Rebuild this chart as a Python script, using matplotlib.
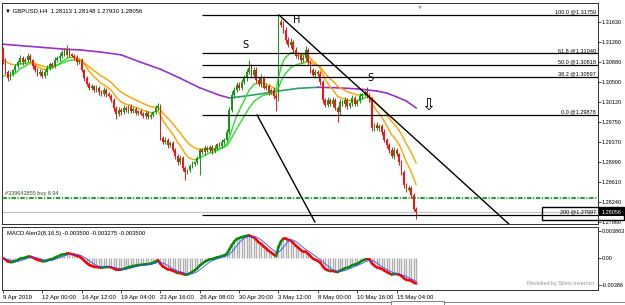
import numpy as np
import matplotlib
matplotlib.use('Agg')
import matplotlib.pyplot as plt
from matplotlib.collections import LineCollection
from matplotlib.patches import Rectangle
from matplotlib.lines import Line2D

plt.rcParams['font.family'] = ['Liberation Sans', 'DejaVu Sans']

# ---------------- data ----------------
first_open = 1.3110
closes = [
    1.3091, 1.3069, 1.3057, 1.3065, 1.3072, 1.3080, 1.3087, 1.3095, 1.3087, 1.3091, 1.3099, 1.3091, 1.3080, 1.3072, 1.3065, 1.3069,
    1.3061, 1.3069, 1.3076, 1.3084, 1.3080, 1.3091, 1.3095, 1.3099, 1.3106, 1.3101, 1.3110, 1.3102, 1.3099, 1.3095, 1.3087, 1.3091,
    1.3072, 1.3057, 1.3046, 1.3039, 1.3042, 1.3035, 1.3039, 1.3031, 1.3027, 1.3035, 1.3027, 1.3024, 1.3016, 1.3001, 1.2990, 1.2997,
    1.2993, 1.3001, 1.2997, 1.3003, 1.2995, 1.2999, 1.2992, 1.2995, 1.2990, 1.2986, 1.2992, 1.2984, 1.2988, 1.2993, 1.3001, 1.3005,
    1.2945, 1.2937, 1.2941, 1.2931, 1.2935, 1.2922, 1.2911, 1.2899, 1.2907, 1.2888, 1.2881, 1.2884, 1.2892, 1.2896, 1.2899, 1.2907,
    1.2922, 1.2918, 1.2926, 1.2922, 1.2928, 1.2920, 1.2926, 1.2933, 1.2930, 1.2937, 1.2941, 1.2956, 1.2997, 1.3025, 1.3035, 1.3044,
    1.3039, 1.3050, 1.3057, 1.3069, 1.3076, 1.3063, 1.3072, 1.3054, 1.3046, 1.3057, 1.3039, 1.3042, 1.3031, 1.3035, 1.3024, 1.3020,
    1.3163, 1.3157, 1.3148, 1.3129, 1.3119, 1.3125, 1.3110, 1.3099, 1.3101, 1.3091, 1.3095, 1.3110, 1.3087, 1.3072, 1.3063, 1.3069,
    1.3065, 1.3050, 1.3016, 1.3007, 1.3016, 1.3009, 1.3016, 1.3001, 1.2993, 1.3012, 1.3009, 1.3016, 1.3005, 1.3010, 1.3020, 1.3009,
    1.3014, 1.3024, 1.3027, 1.3031, 1.3025, 1.3016, 1.2963, 1.2969, 1.2963, 1.2967, 1.2956, 1.2941, 1.2931, 1.2922, 1.2911, 1.2922,
    1.2914, 1.2899, 1.2881, 1.2856, 1.2847, 1.2851, 1.2837, 1.2811, 1.28056]
# wick lengths in pips above max(open, close) / below min(open, close)
wick_up = [
    6, 4, 3, 5, 3, 4, 5, 6, 3, 4, 6, 3, 2, 3, 4, 5,
    3, 4, 5, 3, 4, 5, 4, 6, 5, 7, 9, 4, 3, 4, 5, 3,
    4, 3, 5, 3, 4, 3, 5, 4, 3, 5, 3, 4, 3, 4, 3, 5,
    4, 5, 3, 4, 5, 3, 4, 3, 4, 3, 5, 3, 4, 3, 5, 5,
    4, 3, 5, 3, 4, 3, 4, 3, 5, 3, 4, 3, 4, 5, 3, 4,
    4, 3, 5, 4, 3, 4, 5, 3, 4, 5, 3, 6, 5, 8, 6, 5,
    6, 5, 7, 6, 15, 8, 6, 7, 5, 8, 4, 6, 5, 4, 5, 4,
    13, 6, 7, 5, 6, 8, 4, 5, 6, 4, 5, 7, 4, 5, 4, 6,
    4, 5, 3, 4, 5, 4, 5, 3, 4, 5, 4, 5, 4, 3, 5, 4,
    4, 5, 3, 4, 9, 5, 6, 4, 5, 3, 4, 5, 3, 4, 5, 6,
    4, 3, 5, 3, 4, 6, 3, 4, 3]
wick_dn = [
    8, 4, 5, 3, 4, 3, 4, 3, 5, 4, 3, 4, 5, 3, 4, 3,
    4, 3, 5, 4, 3, 4, 3, 5, 4, 3, 4, 5, 3, 4, 5, 3,
    4, 5, 3, 4, 5, 3, 4, 5, 3, 4, 5, 3, 4, 5, 10, 4,
    5, 4, 3, 5, 4, 3, 5, 4, 3, 4, 5, 3, 4, 3, 4, 3,
    5, 4, 3, 5, 4, 3, 6, 5, 4, 6, 15, 5, 4, 3, 5, 4,
    32, 4, 5, 3, 4, 5, 3, 4, 3, 4, 5, 3, 4, 3, 5, 4,
    5, 4, 3, 6, 4, 5, 3, 6, 4, 5, 3, 4, 5, 3, 6, 25,
    5, 4, 6, 5, 4, 6, 5, 4, 5, 6, 4, 5, 6, 5, 4, 5,
    4, 5, 6, 5, 4, 5, 6, 4, 18, 5, 4, 6, 5, 4, 5, 4,
    5, 4, 6, 4, 5, 3, 6, 5, 4, 5, 6, 4, 5, 6, 4, 5,
    4, 5, 6, 5, 4, 3, 5, 4, 13]

# long moving average (read at sample bars)
ma_long_bars = [0, 8, 16, 24, 32, 40, 48, 56, 64, 72, 80, 88, 92, 96, 104, 112, 120, 128, 136, 144, 152, 156, 160, 164, 168]
ma_long_vals = [1.3121, 1.3118, 1.3115, 1.3112, 1.3110, 1.3106, 1.3101, 1.3087, 1.3074, 1.3057, 1.3039, 1.3025, 1.3020,
                1.3022, 1.3027, 1.3033, 1.3038, 1.3040, 1.3039, 1.3037, 1.3033, 1.3029, 1.3022, 1.3014, 1.3001]
# moving-average starting values at the left edge
ma_fast_start = 1.3054
ma_slow_start = 1.3091

fib_levels = ['100.0', '61.8', '50.0', '38.2', '0.0', '200']
fib_prices = [1.31759, 1.31040, 1.30818, 1.30597, 1.29878, 1.27997]
price_ticks = [1.31630, 1.31260, 1.30880, 1.30500, 1.30120, 1.29750, 1.29370, 1.28990, 1.28610, 1.28240, 1.27860]
date_ticks = [0, 16, 32, 48, 64, 80, 96, 112, 128, 144, 160]
date_labels = ['9 Apr 2019', '12 Apr 00:00', '16 Apr 12:00', '19 Apr 04:00', '23 Apr 16:00', '26 Apr 08:00',
               '30 Apr 20:00', '3 May 12:00', '8 May 00:00', '10 May 16:00', '15 May 04:00']
order_prices = [1.28345, 1.28318]
bid_price = 1.28056
# trend lines (bar, price)
trend1 = [(112.2, 1.31759), (206.1, 1.27809)]
trend2 = [(103.3, 1.29878), (126.8, 1.27866)]
pattern_labels = [('S', 98.4, 1.3119), ('H', 119.5, 1.3166), ('S', 149.2, 1.3058)]
macd_ticks = [0.003863, 0.0, -0.00386]
macd_tick_labels = ['0.003863', '0.00', '-0.00386']

# ---------------- computations ----------------
c = np.array(closes)
n = len(c)
idx = np.arange(n)
o = np.concatenate([[first_open], c[:-1]])
hi = np.maximum(o, c) + np.array(wick_up) * 1e-4
lo = np.minimum(o, c) - np.array(wick_dn) * 1e-4


def ema(x, period, seed):
    a = 2.0 / (period + 1)
    v = seed
    out = []
    for xi in x:
        v = v + a * (xi - v)
        out.append(v)
    return np.array(out)


fast = ema(c, 10, ma_fast_start)
slow = ema(c, 20, ma_slow_start)
macd = ema(c, 8, c[0]) - ema(c, 16, c[0])
signal = np.array([macd[max(0, k - 4):k + 1].mean() for k in range(n)])


def colored_line(ax, x, y, up_col, dn_col, lw, z=3):
    x = np.asarray(x, float)
    y = np.asarray(y, float)
    pts = np.column_stack([x, y])
    segs = np.stack([pts[:-1], pts[1:]], axis=1)
    cols = [up_col if y[k + 1] >= y[k] else dn_col for k in range(len(y) - 1)]
    lc = LineCollection(segs, colors=cols, linewidths=lw, zorder=z, capstyle='round')
    ax.add_collection(lc)


# ---------------- figure ----------------
W, H = 625, 305
fig = plt.figure(figsize=(W / 100, H / 100), dpi=100)


def fr(x0, y0, x1, y1):
    return [x0 / W, 1 - y1 / H, (x1 - x0) / W, (y1 - y0) / H]


ax = fig.add_axes(fr(2, 3, 598, 224))
ax2 = fig.add_axes(fr(2, 227, 598, 290))
XMIN, XMAX = -0.41, 241.9
FS = 4.0

for a in (ax, ax2):
    a.set_xlim(XMIN, XMAX)
    for s in a.spines.values():
        s.set_linewidth(0.7)
        s.set_color('#303030')
    a.yaxis.tick_right()
    a.tick_params(axis='y', length=2, width=0.5, pad=0.8, labelsize=FS, colors='black')

ax.set_ylim(1.27828, 1.31985)
ax.set_xticks([])
ax.set_yticks(price_ticks)
ax.set_yticklabels(['%.5f' % p for p in price_ticks])

# long MA
colored_line(ax, ma_long_bars, ma_long_vals, '#2e9e6e', '#9932cc', 1.2, z=2)
# fast/slow MAs
colored_line(ax, idx, slow, '#33dd33', '#ffa500', 1.0, z=2)
colored_line(ax, idx, fast, '#33dd33', '#ffa500', 1.0, z=2)

# candles
up = c >= o
cols = np.where(up, '#119a11', '#ff1010')
ax.vlines(idx, lo, hi, colors=cols, lw=0.7, zorder=4)
ax.bar(idx, np.maximum(np.abs(c - o), 0.00005), bottom=np.minimum(o, c), width=0.72,
       color=cols, linewidth=0, zorder=4)

# fib lines
for lab, p in zip(fib_levels, fib_prices):
    ax.hlines(p, 80.9, XMAX, colors='black', lw=0.9, zorder=5)
    ax.text(241.0, p + 0.00005, '%s @%.5f' % (lab, p), ha='right', va='bottom', fontsize=FS, zorder=6)

# bid line and order lines
ax.axhline(bid_price, color='#c0c0c0', lw=0.8, zorder=1)
for p in order_prices:
    ax.axhline(p, color='#2ca02c', lw=0.8, ls=(0, (4, 1.5, 1, 1.5)), zorder=3)
ax.text(0.8, order_prices[0] + 0.00012, '#339643855 buy 8.94', fontsize=FS, color='#305030', va='bottom')

# trend lines
for t in (trend1, trend2):
    ax.plot([t[0][0], t[1][0]], [t[0][1], t[1][1]], color='black', lw=1.0, zorder=5)

for s, xb, p in pattern_labels:
    ax.text(xb, p, s, fontsize=7, ha='center', va='center', color='black', family=['DejaVu Sans'])
ax.text(172.8, 1.30066, '\u21e9', fontsize=12, ha='center', va='center', color='black', family=['DejaVu Sans'])

ax.text(1.0, 1.3183, '\u25bc GBPUSD,H4  1.28113 1.28148 1.27930 1.28056', fontsize=4.3, va='center', ha='left')
ax.text(169.5, 1.3196, '\u25bc', fontsize=3.5, color='#a0a0a0', ha='center', va='top', family=['DejaVu Sans'])

# price tag & label box (figure pixels)
fig.add_artist(Rectangle((542 / W, 1 - 220 / H), 82 / W, 13 / H, transform=fig.transFigure,
                         fill=False, edgecolor='black', lw=1.0))
fig.add_artist(Rectangle((599 / W, 1 - 216 / H), 25 / W, 8 / H, transform=fig.transFigure,
                         facecolor='black', edgecolor='none'))
fig.text(611.5 / W, 1 - 212 / H, '%.5f' % bid_price, color='white', fontsize=FS, ha='center', va='center')

# ---------------- MACD panel ----------------
ax2.set_ylim(-0.00458, 0.00443)
ax2.vlines(idx, 0, macd, colors='#b0b0b0', lw=1.0, zorder=2)
colored_line(ax2, idx, macd, '#0a8a0a', '#ff0000', 1.8, z=3)
ax2.plot(idx, signal, color='#3050ff', lw=0.6, zorder=4)
ax2.set_yticks(macd_ticks)
ax2.set_yticklabels(macd_tick_labels)
ax2.set_xticks(date_ticks)
ax2.set_xticklabels(date_labels, ha='left')
ax2.tick_params(axis='x', length=2, width=0.5, pad=1.5, labelsize=4.3)
ax2.text(0.008, 0.93, 'MACD Alert2(8,16,5) -0.003500 -0.003275 -0.003500', transform=ax2.transAxes,
         fontsize=4.2, va='top', ha='left')
ax2.text(0.993, 0.06, 'Revisited by Silvio Invernici', transform=ax2.transAxes,
         fontsize=FS, va='bottom', ha='right', color='#909090')

# bottom tab bar
fig.add_artist(Line2D([0, 390 / W], [1 - 302 / H] * 2, transform=fig.transFigure, color='#808080', lw=0.7))
fig.add_artist(Line2D([444 / W, 1], [1 - 302 / H] * 2, transform=fig.transFigure, color='#808080', lw=0.7))
fig.add_artist(Rectangle((391 / W, 1 - 305 / H), 53 / W, 4 / H, transform=fig.transFigure,
                         fill=False, edgecolor='#808080', lw=0.7))

fig.savefig('out.png', dpi=100)
